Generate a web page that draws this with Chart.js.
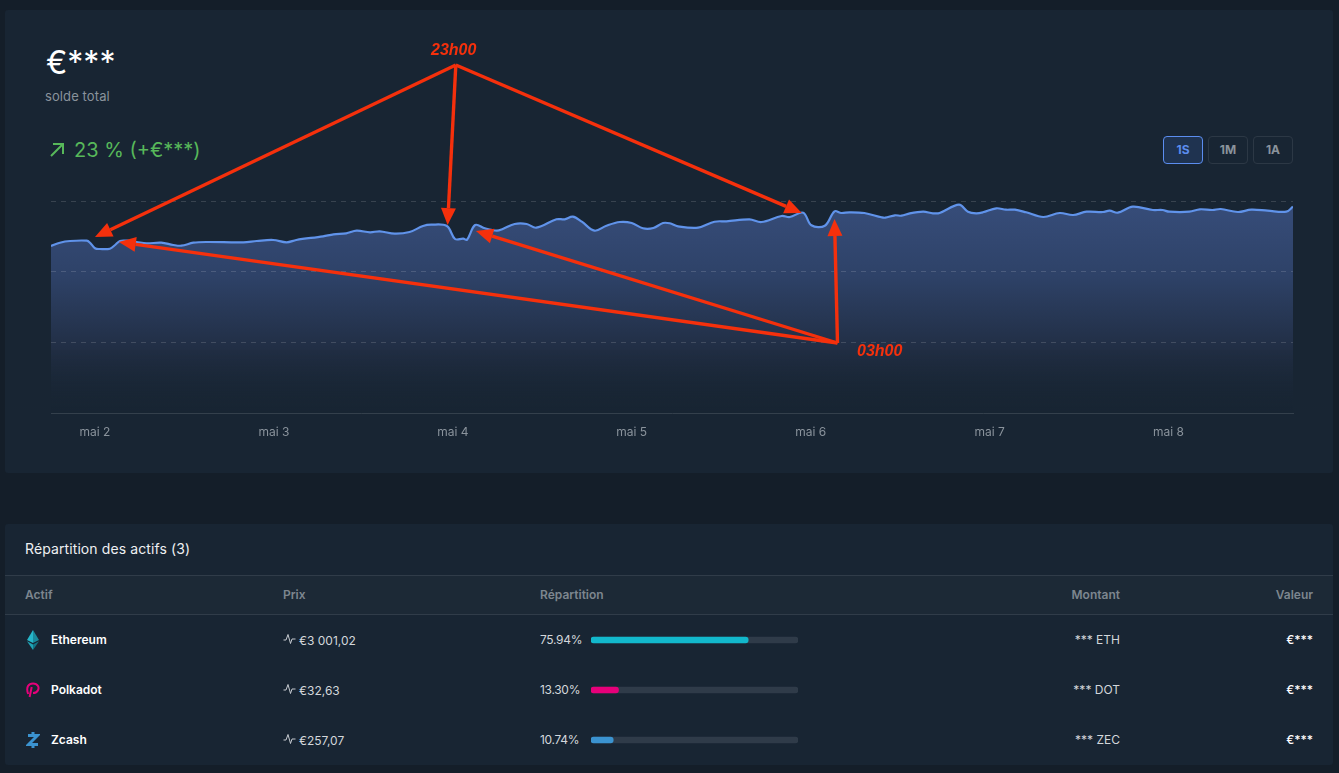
<!DOCTYPE html>
<html lang="fr">
<head>
<meta charset="utf-8">
<title>solde total</title>
<script src="https://cdn.jsdelivr.net/npm/chart.js@4/dist/chart.umd.min.js"></script>
<style>
  html, body { margin: 0; padding: 0; width: 1339px; height: 773px; overflow: hidden; background: #141e29; font-family: Inter, sans-serif; }
  .card { position: absolute; left: 5px; width: 1328px; background: #182533; }
  #top_card { top: 10px; height: 463px; border-radius: 3px; }
  #table_card { top: 524px; height: 241px; border-radius: 3px; }
  #head_row { position: absolute; left: 5px; width: 1328px; top: 575px; height: 40px; background: #1c2936; border-top: 1px solid #303c49; border-bottom: 1px solid #303c49; box-sizing: border-box; }
  .t { position: absolute; white-space: nowrap; line-height: 20px; }
  .r { text-align: right; }
  .btn { position: absolute; top: 136px; width: 40px; height: 28px; box-sizing: border-box; border: 1px solid #2c3845; border-radius: 4px; color: #8a939c; font-size: 12px; font-weight: 700; text-align: center; line-height: 26px; }
  .btn.on { background: #1f3350; border-color: #5b8def; color: #5b8def; }
  .note { position: absolute; z-index: 2; color: #f5300c; font: italic bold 16px "Liberation Sans", sans-serif; line-height: 20px; white-space: nowrap; }
  .th { color: #7d868f; font-size: 12px; font-weight: 600; top: 585px; }
  .name { color: #fff; font-size: 12px; font-weight: 600; left: 51px; }
  .val { color: #d3d7db; font-size: 12px; }
  .pct { letter-spacing: -0.3px; }
  .strong { color: #fff; font-weight: 500; }
  canvas { position: absolute; }
  svg { position: absolute; }
</style>
</head>
<body>
<div class="card" id="top_card"></div>
<div class="card" id="table_card"></div>
<div id="head_row"></div>

<div class="t" style="left:46px;top:44px;font-size:32px;line-height:38px;color:#fff">€***</div>
<div class="t" style="left:45px;top:86px;font-size:13px;color:#8a939c;letter-spacing:.1px">solde total</div>
<svg style="left:49px;top:142px" width="16" height="16" viewBox="0 0 16 16" fill="none" stroke="#57b85a" stroke-width="2"><path d="M2 14 L14 2 M4 2 H14 V12"/></svg>
<div class="t" style="left:74px;top:139px;font-size:20px;line-height:22px;color:#57b85a">23 % (+€***)</div>
<div class="btn on" style="left:1163px">1S</div>
<div class="btn" style="left:1208px">1M</div>
<div class="btn" style="left:1253px">1A</div>

<div class="t" style="left:25px;top:539px;font-size:14px;color:#eef0f2;letter-spacing:.1px">Répartition des actifs (3)</div>
<div id="table_text"></div>
<svg style="left:25px;top:630px" width="16" height="20" viewBox="0 0 16 20"><path d="M8 0 L14 10 L8 13 Z" fill="#1a8a9c"/><path d="M8 0 L2 10 L8 13 Z" fill="#26b6c9"/><path d="M8 14.5 L14 11.2 L8 20 Z" fill="#127485"/><path d="M8 14.5 L2 11.2 L8 20 Z" fill="#1fa3b5"/></svg>
<svg style="left:26px;top:682px" width="14" height="17" viewBox="0 0 14 17" fill="none" stroke="#e6007a" stroke-width="2"><path d="M2.2 12 C1 9 1 6 2 4 C4 0.5 10 0.5 12 4 C13.5 7 11.5 11 7 11 M5.7 5 L3.6 15"/></svg>
<svg style="left:26px;top:731px" width="14" height="18" viewBox="0 0 14 18" fill="none" stroke="#3b93d0" stroke-width="3"><path d="M2 4.5 H11.5 L2.5 13.5 H12 M7 1 V4 M7 14 V17"/></svg>

<canvas id="balance_chart" style="left:5px;top:40px;width:1328px;height:410px"></canvas>
<canvas id="share_chart" style="left:591px;top:615px;width:207px;height:150px"></canvas>
<div class="note" style="left:431px;top:40px">23h00</div>
<div class="note" style="left:857px;top:341px">03h00</div>

<script>
// heures depuis le 2 mai, valeur du solde relue sur la capture
const hours = [-5.9, -4.7, -3.35, -1.1, -0.67, 0, 0.67, 2, 2.7, 3.35, 4.25, 5.6, 6.9, 8.9, 10.5, 11.6, 13.2, 15, 19.9, 21.7, 23.9, 25.7, 27, 30.6, 32, 33.7, 35.1, 36.9, 38.2, 40.2, 42.2, 44, 45.1, 47.2, 48.3, 49.4, 49.9, 51, 52.3, 53.9, 54.7, 56.3, 57.9, 59.2, 61.9, 63, 64.1, 65.3, 67, 68.6, 70.4, 72, 73.5, 74.9, 76.2, 77.1, 78.2, 80.9, 83.1, 84.7, 87.8, 89.4, 92.1, 93.2, 95, 96.1, 97.9, 99.2, 100.1, 101.2, 103.2, 105.5, 106, 107.3, 108.2, 109.3, 111.1, 112.4, 113.3, 115.9, 117.1, 118.2, 119.1, 120.9, 122.2, 123.4, 124.9, 127.2, 129.4, 131.2, 133, 135.2, 136.1, 137.2, 139.2, 141.9, 143.2, 144.1, 146.8, 148.2, 149.9, 151, 153.3, 155.1, 157.3, 159.8, 160.7];
const balance = [167, 170.3, 172, 172.3, 170.3, 164.7, 164, 164.3, 168, 172, 172.3, 171, 169.7, 170.3, 168, 167.3, 170.3, 171, 170.7, 172, 173, 170.7, 173, 176.7, 178.7, 179.7, 182.3, 180.7, 181.7, 179.3, 181, 187, 188.3, 187, 174, 174.3, 173.3, 188, 184.7, 182.3, 184, 189, 189, 185.3, 193.7, 193.7, 196.3, 191.3, 182.3, 187.3, 191, 190, 184.7, 185, 190, 189.7, 186.7, 185.3, 191.3, 191.7, 193.7, 191, 197, 196, 200.3, 187.7, 187.3, 201.7, 200, 200.7, 200, 195.7, 195.3, 197.7, 197.3, 199.7, 201.3, 199.7, 200, 208.3, 201.3, 199.7, 200.7, 204.7, 203.3, 203.3, 200.7, 196, 200, 198, 201.3, 201, 202.3, 200.3, 206.3, 203, 203, 201.3, 201.3, 203.7, 203, 204, 201, 203.3, 202.3, 201.3, 206.3];
const day_ticks = [0, 24, 48, 72, 96, 120, 144];
const day_labels = ["mai 2", "mai 3", "mai 4", "mai 5", "mai 6", "mai 7", "mai 8"];
const value_ticks = [0, 70.67, 141.33, 212];

// flèches rouges : [départ heure, départ valeur, pointe heure, pointe valeur]
const arrows_23h = [[48.4, 348, 0, 176], [48.4, 348, 47.3, 188], [48.4, 348, 94.8, 200]];
const arrows_03h = [[99.6, 70, 3.2, 171], [99.6, 70, 51.1, 182], [99.6, 70, 99.2, 194]];

const assets = ["Ethereum", "Polkadot", "Zcash"];
const prices = ["€3 001,02", "€32,63", "€257,07"];
const shares = [75.94, 13.30, 10.74];
const share_full = [100, 100, 100];
const amounts = ["*** ETH", "*** DOT", "*** ZEC"];
const values = ["€***", "€***", "€***"];
const share_colors = ["#12b8cc", "#e6007a", "#3b93d0"];

// texte du tableau
function addText(cls, left, top, text, style) {
  const el = document.createElement("div");
  el.className = "t " + cls;
  el.style.left = left + "px";
  el.style.top = top + "px";
  if (style) el.style.cssText += style;
  el.textContent = text;
  document.getElementById("table_text").appendChild(el);
  return el;
}
addText("th", 25, 585, "Actif");
addText("th", 283, 585, "Prix");
addText("th", 540, 585, "Répartition");
addText("th r", 920, 585, "Montant", "width:200px");
addText("th r", 1113, 585, "Valeur", "width:200px");
assets.forEach((name, i) => {
  const top = 630 + i * 50;
  addText("name", 51, top, name);
  addText("val", 299, top + 1, prices[i]);
  addText("val pct", 540, top, shares[i].toFixed(2) + "%");
  addText("val r", 920, top, amounts[i], "width:200px");
  addText("val r strong", 1113, top, values[i], "width:200px");
  const pulse = document.createElementNS("http://www.w3.org/2000/svg", "svg");
  pulse.setAttribute("width", "13");
  pulse.setAttribute("height", "12");
  pulse.setAttribute("viewBox", "0 0 13 12");
  pulse.style.left = "283px";
  pulse.style.top = (top + 3) + "px";
  pulse.innerHTML = '<path d="M0.5 7 H3 L5 1.5 L7.5 10.5 L9 6 H12.5" fill="none" stroke="#c5cad0" stroke-width="1"/>';
  document.getElementById("table_text").appendChild(pulse);
});

function drawArrow(c, x0, y0, x1, y1) {
  const a = Math.atan2(y1 - y0, x1 - x0);
  const head = 17, half = 7.5;
  const bx = x1 - head * Math.cos(a), by = y1 - head * Math.sin(a);
  c.beginPath();
  c.moveTo(x0, y0);
  c.lineTo(bx, by);
  c.stroke();
  c.beginPath();
  c.moveTo(x1, y1);
  c.lineTo(bx - half * Math.sin(a), by + half * Math.cos(a));
  c.lineTo(bx + half * Math.sin(a), by - half * Math.cos(a));
  c.closePath();
  c.fill();
}

const arrow_plugin = {
  id: "arrows",
  afterDraw(chart) {
    const c = chart.ctx, sx = chart.scales.x, sy = chart.scales.y;
    c.save();
    c.strokeStyle = "#f5300c";
    c.fillStyle = "#f5300c";
    c.lineWidth = 3.4;
    arrows_23h.concat(arrows_03h).forEach(a => {
      drawArrow(c, sx.getPixelForValue(a[0]), sy.getPixelForValue(a[1]), sx.getPixelForValue(a[2]), sy.getPixelForValue(a[3]));
    });
    c.restore();
  }
};

function areaFill(ctx) {
  const area = ctx.chart.chartArea;
  if (!area) return "transparent";
  const g = ctx.chart.ctx.createLinearGradient(0, area.top, 0, area.bottom);
  g.addColorStop(0, "#374d7a");
  g.addColorStop(0.35, "#2e4268");
  g.addColorStop(0.7, "#212e44");
  g.addColorStop(1, "rgba(24,37,51,0)");
  return g;
}

new Chart(document.getElementById("balance_chart"), {
  type: "line",
  data: {
    datasets: [{
      data: hours.map((h, i) => ({ x: h, y: balance[i] })),
      borderColor: "#6093ea",
      borderWidth: 2.2,
      pointRadius: 0,
      tension: 0.35,
      fill: true,
      backgroundColor: areaFill
    }]
  },
  options: {
    responsive: false,
    animation: false,
    layout: { padding: { left: 46, right: 40, top: 161, bottom: 0 } },
    plugins: { legend: { display: false }, tooltip: { enabled: false } },
    scales: {
      x: {
        type: "linear",
        min: hours[0],
        max: hours[hours.length - 1],
        afterBuildTicks(scale) { scale.ticks = day_ticks.map(v => ({ value: v })); },
        afterFit(scale) { scale.height = 37; },
        grid: { display: false },
        border: { color: "#34404c", width: 1 },
        ticks: {
          autoSkip: false,
          maxRotation: 0,
          padding: 4,
          color: "#8a939c",
          font: { family: "Inter", size: 12 },
          callback: v => day_labels[day_ticks.indexOf(v)]
        }
      },
      y: {
        min: 0,
        max: 212,
        afterBuildTicks(scale) { scale.ticks = value_ticks.map(v => ({ value: v })); },
        afterFit(scale) { scale.width = 0; },
        border: { display: false, dash: [5, 5] },
        grid: {
          color: c => (c.tick.value === 0 ? "transparent" : "rgba(255,255,255,0.14)"),
          drawTicks: false,
          z: 1
        },
        ticks: { display: false }
      }
    }
  },
  plugins: [arrow_plugin]
});

// barres de répartition
new Chart(document.getElementById("share_chart"), {
  type: "bar",
  data: {
    labels: assets,
    datasets: [
      { data: shares, backgroundColor: share_colors, barThickness: 6, borderRadius: 3, borderSkipped: false, grouped: false, order: 1 },
      { data: share_full, backgroundColor: "#2f3b49", barThickness: 6, borderRadius: 3, borderSkipped: false, grouped: false, order: 2 }
    ]
  },
  options: {
    indexAxis: "y",
    responsive: false,
    animation: false,
    plugins: { legend: { display: false }, tooltip: { enabled: false } },
    scales: {
      x: { display: false, min: 0, max: 100 },
      y: { display: false }
    }
  }
});
</script>
</body>
</html>
